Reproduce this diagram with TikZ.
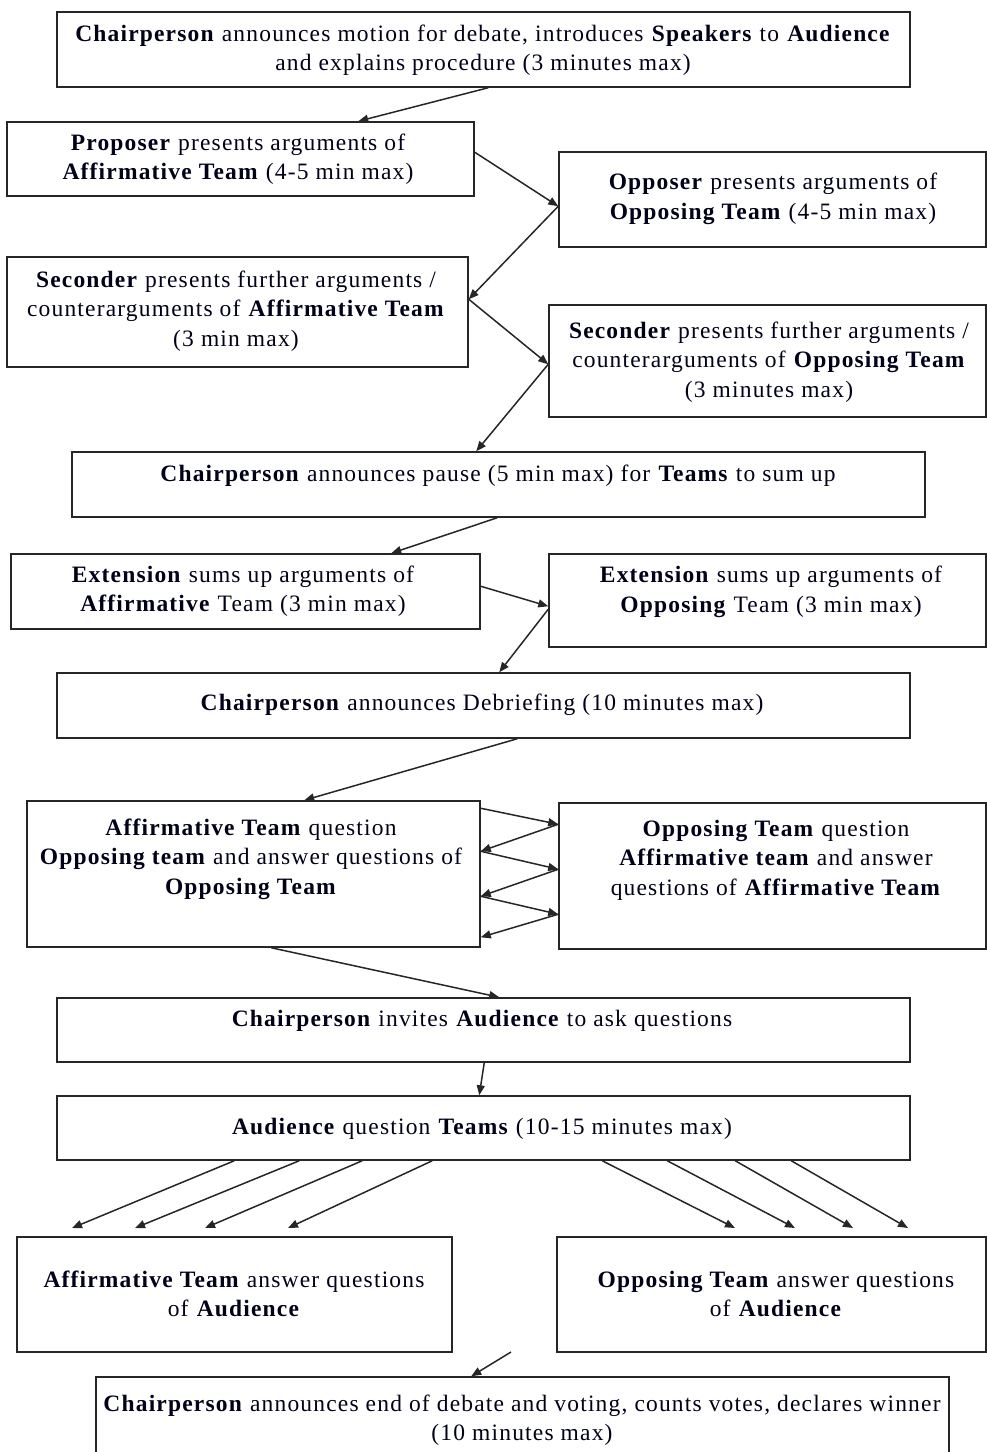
\documentclass[tikz,border=0pt]{standalone}
\usepackage{fontspec}
\setmainfont[LetterSpace=5]{Liberation Serif}
\usetikzlibrary{arrows.meta,calc}
\tikzset{
  box/.style={draw=black!85, line width=1.5pt, rectangle, inner sep=0pt, fill=white},
  txt/.style={align=center, inner sep=0pt, font=\fontsize{23.5}{29.5}\selectfont, text=black!90!blue},
  arr/.style={draw=black!85, line width=1.5pt, -{Triangle[length=10pt,width=8pt]}},
}
\newcommand{\bx}[5]{%
  \node[box, minimum width=#4pt-#2pt, minimum height=#5pt-#3pt] (#1) at ({(#2+#4)/2},{(#3+#5)/2}) {};}
\begin{document}
\begin{tikzpicture}[x=1pt,y=-1pt]
\useasboundingbox (0,0) rectangle (987,1452);
% boxes
\bx{b1}{57}{12}{910}{87}
\bx{b2}{7}{122}{474}{196}
\bx{b3}{559}{152}{986}{247}
\bx{b4}{7}{257}{468}{367}
\bx{b5}{549}{305}{986}{417}
\bx{b6}{72}{452}{925}{517}
\bx{b7}{11}{554}{480}{629}
\bx{b8}{549}{554}{986}{647}
\bx{b9}{57}{673}{910}{738}
\bx{b10}{27}{801}{480}{947}
\bx{b11}{559}{803}{986}{949}
\bx{b12}{57}{998}{910}{1062}
\bx{b13}{57}{1096}{910}{1160}
\bx{b14}{17}{1237}{452}{1352}
\bx{b15}{557}{1237}{986}{1352}
\bx{b16}{96}{1377}{949}{1470}
% texts
\node[txt] (t1) at (483,50) {\textbf{Chairperson} announces motion for debate, introduces \textbf{Speakers} to \textbf{Audience}\\ and explains procedure (3 minutes max)};
\node[txt] (t2) at (238,159) {\textbf{Proposer} presents arguments of\\ \textbf{Affirmative Team} (4-5 min max)};
\node[txt] (t3) at (773,199) {\textbf{Opposer} presents arguments of\\ \textbf{Opposing Team} (4-5 min max)};
\node[txt] (t4) at (236,311) {\textbf{Seconder} presents further arguments /\\ counterarguments of \textbf{Affirmative Team}\\ (3 min max)};
\node[txt] (t5) at (769,362) {\textbf{Seconder} presents further arguments /\\ counterarguments of \textbf{Opposing Team}\\ (3 minutes max)};
\node[txt] (t6) at (498,476) {\textbf{Chairperson} announces pause (5 min max) for \textbf{Teams} to sum up};
\node[txt] (t7) at (243,591) {\textbf{Extension} sums up arguments of\\ \textbf{Affirmative} Team (3 min max)};
\node[txt] (t8) at (771,592) {\textbf{Extension} sums up arguments of\\ \textbf{Opposing} Team (3 min max)};
\node[txt] (t9) at (482,705) {\textbf{Chairperson} announces Debriefing (10 minutes max)};
\node[txt] (t10) at (251,859) {\textbf{Affirmative Team} question\\ \textbf{Opposing team} and answer questions of\\ \textbf{Opposing Team}};
\node[txt] (t11) at (776,860) {\textbf{Opposing Team} question\\ \textbf{Affirmative team} and answer\\ questions of \textbf{Affirmative Team}};
\node[txt] (t12) at (482,1021) {\textbf{Chairperson} invites \textbf{Audience} to ask questions};
\node[txt] (t13) at (482,1129) {\textbf{Audience} question \textbf{Teams} (10-15 minutes max)};
\node[txt] (t14) at (234,1294) {\textbf{Affirmative Team} answer questions\\ of \textbf{Audience}};
\node[txt] (t15) at (776,1294) {\textbf{Opposing Team} answer questions\\ of \textbf{Audience}};
\node[txt] (t16) at (522,1420) {\textbf{Chairperson} announces end of debate and voting, counts votes, declares winner\\ (10 minutes max)};
% connectors
\draw[arr] ([xshift=432pt]b1.south west) -- ([xshift=352pt]b2.north west);
\draw[arr] ([yshift=-31pt]b2.north east) -- ([yshift=-55pt]b3.north west);
\draw[arr] ([yshift=-55pt]b3.north west) -- ([yshift=-43pt]b4.north east);
\draw[arr] ([yshift=-43pt]b4.north east) -- ([yshift=-60pt]b5.north west);
\draw[arr] ([yshift=-60pt]b5.north west) -- ([xshift=405pt]b6.north west);
\draw[arr] ([xshift=426pt]b6.south west) -- ([xshift=381pt]b7.north west);
\draw[arr] ([yshift=-33pt]b7.north east) -- ([yshift=-53pt]b8.north west);
\draw[arr] ([yshift=-56pt]b8.north west) -- ([xshift=443pt]b9.north west);
\draw[arr] ([xshift=461pt]b9.south west) -- ([xshift=278pt]b10.north west);
\draw[arr] ([yshift=-8pt]b10.north east) -- ([yshift=-22pt]b11.north west);
\draw[arr] ([yshift=-22pt]b11.north west) -- ([yshift=-51pt]b10.north east);
\draw[arr] ([yshift=-51pt]b10.north east) -- ([yshift=-67pt]b11.north west);
\draw[arr] ([yshift=-67pt]b11.north west) -- ([yshift=-96pt]b10.north east);
\draw[arr] ([yshift=-96pt]b10.north east) -- ([yshift=-112pt]b11.north west);
\draw[arr] ([yshift=-112pt]b11.north west) -- ([yshift=-137pt]b10.north east);
\draw[arr] ([xshift=245pt]b10.south west) -- ([xshift=443pt]b12.north west);
\draw[arr] ([xshift=428pt]b12.south west) -- ([xshift=423pt]b13.north west);
% fan to answer boxes
\coordinate (a1) at (72,1228);
\coordinate (a2) at (135,1228);
\coordinate (a3) at (205,1228);
\coordinate (a4) at (288,1228);
\coordinate (o1) at (735,1228);
\coordinate (o2) at (795,1228);
\coordinate (o3) at (853,1228);
\coordinate (o4) at (908,1228);
\draw[arr] ([xshift=178pt]b13.south west) -- (a1);
\draw[arr] ([xshift=243pt]b13.south west) -- (a2);
\draw[arr] ([xshift=306pt]b13.south west) -- (a3);
\draw[arr] ([xshift=376pt]b13.south west) -- (a4);
\draw[arr] ([xshift=546pt]b13.south west) -- (o1);
\draw[arr] ([xshift=611pt]b13.south west) -- (o2);
\draw[arr] ([xshift=679pt]b13.south west) -- (o3);
\draw[arr] ([xshift=735pt]b13.south west) -- (o4);
\coordinate (m) at (511,1352);
\draw[arr] (m) -- ([xshift=376pt]b16.north west);
\end{tikzpicture}
\end{document}
